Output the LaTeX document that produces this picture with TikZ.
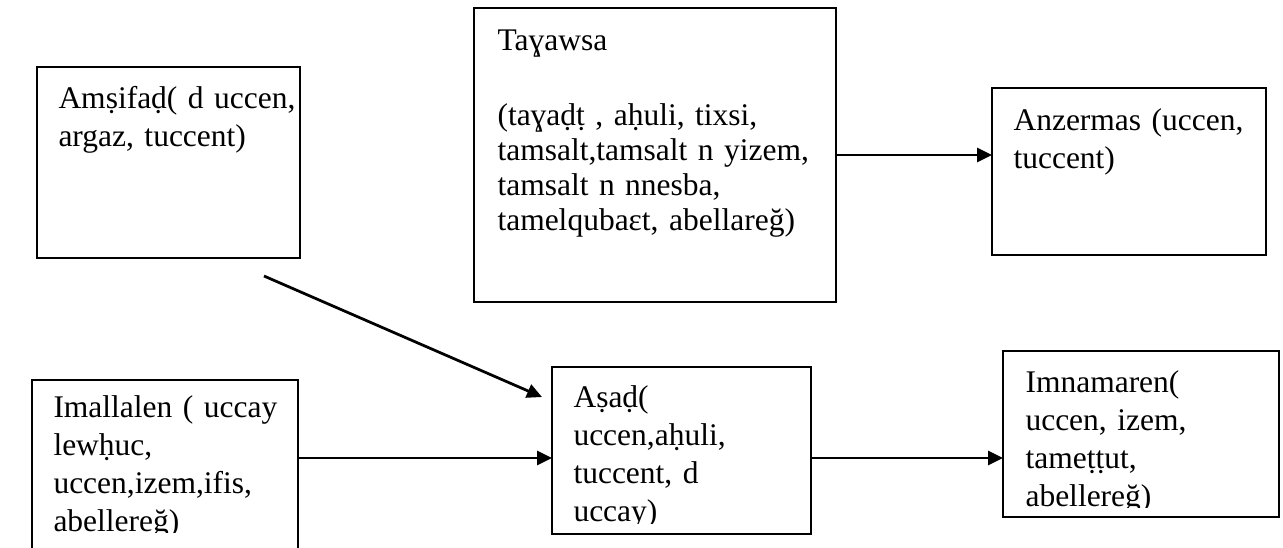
\documentclass[tikz,border=0pt]{standalone}
\usepackage{fontspec}
\setmainfont{Liberation Serif}
\usetikzlibrary{arrows.meta}

\begin{document}
\begin{tikzpicture}[
        x=0.4pt, y=-0.4pt,
        box/.style={draw, line width=0.8pt, anchor=north west, inner sep=0pt, outer sep=0pt},
        txt/.style={anchor=base west, inner sep=0pt, text width=150pt, font=\fontsize{12.6pt}{15.2pt}\selectfont},
        arrow/.style={line width=1.1pt, -{Triangle[length=6pt, width=5.6pt]}}
    ]
        \useasboundingbox (0,0) rectangle (1283,547);

        \node[box, minimum width=105.2pt, minimum height=76.4pt] (ams) at (37,67) {};
        \node[box, minimum width=144.8pt, minimum height=117.6pt] (tay) at (474,8) {};
        \node[box, minimum width=109.6pt, minimum height=66.8pt] (anz) at (992,88) {};
        \node[box, minimum width=106.4pt, minimum height=76pt] (ima) at (32,380) {};
        \node[box, minimum width=103.6pt, minimum height=66.8pt] (asa) at (552,367) {};
        \node[box, minimum width=110.4pt, minimum height=66.4pt] (imn) at (1003,351) {};

        \node[txt] (amstxt) at ([shift={(21,41)}]ams.north west) {Amṣifaḍ( d uccen,\\argaz, tuccent)};
        \node[txt, font=\fontsize{12.6pt}{14pt}\selectfont] (taytxt) at ([shift={(23,42)}]tay.north west)
            {Taɣawsa\\[16pt](taɣaḍṭ , aḥuli, tixsi,\\tamsalt,tamsalt n yizem,\\tamsalt n nnesba,\\tamelqubaɛt, abellareğ)};
        \node[txt] (anztxt) at ([shift={(21,42)}]anz.north west) {Anzermas (uccen,\\tuccent)};
        \begin{scope}
            \clip (ima.north west) rectangle ([shift={(0,-38)}]ima.south east);
            \node[txt] (imatxt) at ([shift={(21,37)}]ima.north west) {Imallalen ( uccay\\lewḥuc,\\uccen,izem,ifis,\\abellereğ)};
        \end{scope}
        \begin{scope}
            \clip (asa.north west) rectangle ([shift={(0,-11)}]asa.south east);
            \node[txt] (asatxt) at ([shift={(21,40)}]asa.north west) {Aṣaḍ(\\uccen,aḥuli,\\tuccent, d\\uccay)};
        \end{scope}
        \begin{scope}
            \clip (imn.north west) rectangle ([shift={(0,-10)}]imn.south east);
            \node[txt] (imntxt) at ([shift={(22,41)}]imn.north west) {Imnamaren(\\uccen, izem,\\tameṭṭut,\\abellereğ)};
        \end{scope}

        \coordinate (row) at (0,458);
        \coordinate (from) at (264,276);
        \draw[arrow] (tay.east) -- (tay.east -| anz.west);
        \draw[arrow] (from) -- ([shift={(-10,30)}]asa.north west);
        \draw[arrow] (ima.east |- row) -- (asa.west |- row);
        \draw[arrow] (asa.east |- row) -- (imn.west |- row);
    \end{tikzpicture}
\end{document}
